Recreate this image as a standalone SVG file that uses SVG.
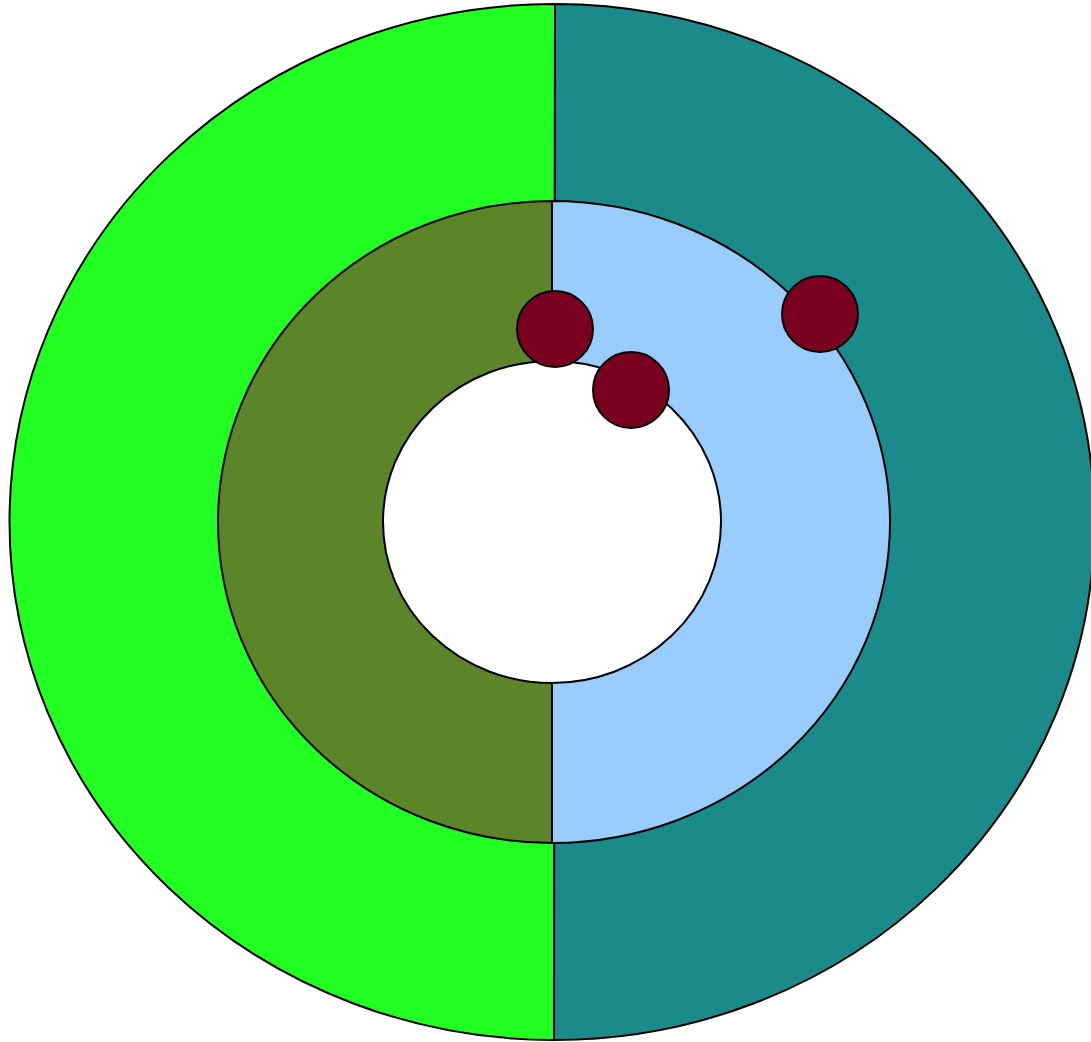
<svg xmlns="http://www.w3.org/2000/svg" width="1091" height="1042" viewBox="0 0 1091 1042">
<style>
.s{stroke:#000;stroke-width:2}
.dot{fill:#7A0020;stroke:#000;stroke-width:2}
</style>
<rect width="1091" height="1042" fill="#fff"/>
<g id="outer">
<path class="s" d="M555 4 A545 518 0 0 0 554 1040 Z" fill="#22FF22"/>
<path class="s" d="M555 4 A540 518 0 0 1 554 1040 Z" fill="#1A8A8A"/>
</g>
<g id="middle">
<path class="s" d="M552 201 A334 321 0 0 0 552 843 Z" fill="#5C8529"/>
<path class="s" d="M552 201 A338 321 0 0 1 552 843 Z" fill="#99CCFF"/>
</g>
<g id="inner">
<ellipse class="s" cx="552" cy="522" rx="169" ry="161" fill="#fff"/>
</g>
<g id="dots">
<circle class="dot" cx="555" cy="329" r="38"/>
<circle class="dot" cx="631" cy="390" r="38"/>
<circle class="dot" cx="820" cy="314" r="38"/>
</g>
</svg>
